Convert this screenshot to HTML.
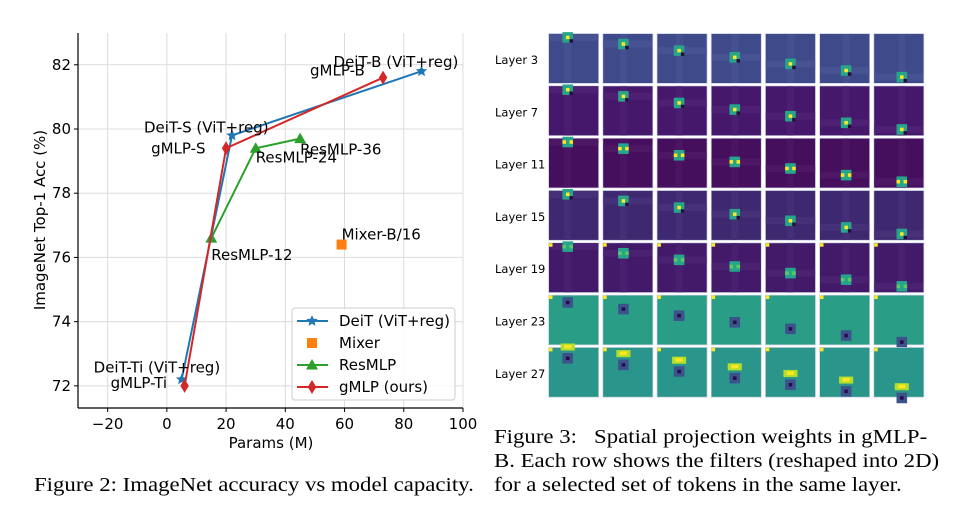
<!DOCTYPE html>
<html><head><meta charset="utf-8"><style>
body{margin:0;background:#fff;width:960px;height:528px;overflow:hidden;position:relative;font-family:"DejaVu Sans","Liberation Sans",sans-serif}
.cap{position:absolute;font-family:"Liberation Serif",serif;font-size:20px;color:#000;line-height:24px;white-space:nowrap;transform:scaleX(1.14);transform-origin:0 0}
</style></head><body>
<svg id="chart" width="480" height="460" style="position:absolute;left:0;top:0" font-family="DejaVu Sans, Liberation Sans, sans-serif"></svg>
<svg id="grid" width="470" height="410" style="position:absolute;top:0;left:490px"></svg>
<div class="cap" style="left:34px;top:473px">Figure 2: ImageNet accuracy vs model capacity.</div>
<div class="cap" style="left:494px;top:425px">Figure 3:&nbsp;&nbsp; Spatial projection weights in gMLP-<br>B. Each row shows the filters (reshaped into 2D)<br>for a selected set of tokens in the same layer.</div>
<script>
const xTicks=[-20,0,20,40,60,80,100];
const yTicks=[72,74,76,78,80,82];
const deitX=[5,22,86], deitY=[72.2,79.8,81.8];
const gmlpX=[6,20,73], gmlpY=[72.0,79.4,81.6];
const resX=[15,30,45], resY=[76.6,79.4,79.7];
const mixX=[59], mixY=[76.4];
const labels=["DeiT-Ti (ViT+reg)","DeiT-S (ViT+reg)","DeiT-B (ViT+reg)","gMLP-Ti","gMLP-S","gMLP-B","ResMLP-12","ResMLP-24","ResMLP-36","Mixer-B/16"];
const NS="http://www.w3.org/2000/svg";
const L=78,R=463,T=33,B=408,FS=15;
const sx=v=>L+(v+30)/130*(R-L);
const sy=v=>B-(v-71.31)/(82.99-71.31)*(B-T);
const svg=document.getElementById('chart');
function mk(t,a,p){const e=document.createElementNS(NS,t);for(const k in a)e.setAttribute(k,a[k]);(p||svg).appendChild(e);return e;}
xTicks.forEach(t=>{
  const g=mk('line',{x1:sx(t),x2:sx(t),y1:T,y2:B,stroke:'#dcdcdc','stroke-width':1});
  
  
  mk('line',{x1:sx(t),x2:sx(t),y1:B,y2:B+4,stroke:'#000'});
  const tx=mk('text',{x:sx(t),y:B+21,'text-anchor':'middle','font-size':FS});
  tx.textContent=t<0?'\u2212'+(-t):t;
  
  
});
yTicks.forEach(t=>{
  const g=mk('line',{x1:L,x2:R,y1:sy(t),y2:sy(t),stroke:'#dcdcdc','stroke-width':1});
  
  
  mk('line',{x1:L-4,x2:L,y1:sy(t),y2:sy(t),stroke:'#000'});
  const tx=mk('text',{x:L-7,y:sy(t)+5,'text-anchor':'end','font-size':FS});
  tx.textContent=t;
  
  
});
mk('line',{x1:L,x2:L,y1:T,y2:B,stroke:'#000','stroke-width':1.2});
mk('line',{x1:L,x2:R,y1:B,y2:B,stroke:'#000','stroke-width':1.2});
const xl=mk('text',{x:271,y:448,'text-anchor':'middle','font-size':FS});xl.textContent='Params (M)';


const yl=mk('text',{x:0,y:0,'text-anchor':'middle','font-size':FS,transform:'translate(45,220) rotate(-90)'});yl.textContent='ImageNet Top-1 Acc (%)';


function star(x,y,r,c,p){let pts=[];for(let i=0;i<10;i++){const a=-Math.PI/2+i*Math.PI/5,rr=i%2?r*0.45:r;pts.push((x+rr*Math.cos(a)).toFixed(1)+','+(y+rr*Math.sin(a)).toFixed(1));}return mk('polygon',{points:pts.join(' '),fill:c},p);}
function tri(x,y,r,c,p){return mk('polygon',{points:`${x},${y-r} ${x-r},${y+r*0.75} ${x+r},${y+r*0.75}`,fill:c},p);}
function dia(x,y,r,c,p){return mk('polygon',{points:`${x},${y-r} ${x+r*0.6},${y} ${x},${y+r} ${x-r*0.6},${y}`,fill:c},p);}
function series(xs,ys,c,marker,name){
  const pl=mk('polyline',{points:xs.map((x,i)=>sx(x)+','+sy(ys[i])).join(' '),fill:'none',stroke:c,'stroke-width':2});
  
  
  xs.forEach((x,i)=>{const m=marker(sx(x),sy(ys[i]),c);
    
    });
}
series(resX,resY,'#2ca02c',(x,y,c)=>tri(x,y,6,c),'resmlp');
series(deitX,deitY,'#1f77b4',(x,y,c)=>star(x,y,6,c),'deit');
series(gmlpX,gmlpY,'#d62728',(x,y,c)=>dia(x,y,7,c),'gmlp');
mixX.forEach((x,i)=>{const m=mk('rect',{x:sx(x)-5,y:sy(mixY[i])-5,width:10,height:10,fill:'#ff7f0e'});
  
  });
const ann=[[0,deitX[0],deitY[0],-88,-7],[1,deitX[1],deitY[1],-88,-3],[2,deitX[2],deitY[2],-88,-4],
[3,gmlpX[0],gmlpY[0],-74,2],[4,gmlpX[1],gmlpY[1],-75,5],[5,gmlpX[2],gmlpY[2],-73,-2],
[6,resX[0],resY[0],0,22],[7,resX[1],resY[1],0,14],[8,resX[2],resY[2],0,16],[9,mixX[0],mixY[0],0,-5]];
ann.forEach(a=>{const t=mk('text',{x:sx(a[1])+a[3],y:sy(a[2])+a[4],'font-size':FS});t.textContent=labels[a[0]];
  
  });
const lg=mk('g',{});


mk('rect',{x:292,y:308,width:163,height:92,rx:3,fill:'#fff','fill-opacity':0.85,stroke:'#ccc'},lg);
const lgN=['DeiT (ViT+reg)','Mixer','ResMLP','gMLP (ours)'],lgC=['#1f77b4','#ff7f0e','#2ca02c','#d62728'];
lgN.forEach((n,i)=>{const y=321+i*22;
  const g=mk('g',{},lg);
  
  
  if(i!=1)mk('line',{x1:297,x2:328,y1:y,y2:y,stroke:lgC[i],'stroke-width':2},g);
  if(i==0)star(312,y,6,lgC[i],g);if(i==1)mk('rect',{x:307,y:y-5,width:10,height:10,fill:lgC[i]},g);
  if(i==2)tri(312,y,6,lgC[i],g);if(i==3)dia(312,y,7,lgC[i],g);
  const t=mk('text',{x:339,y:y+5,'font-size':FS},g);t.textContent=n;});
const layers=[3,7,11,15,19,23,27];
const bgs=['#3f4a8a','#46186b','#450f5e','#3e2870','#43196a','#2a9d87','#2a958a'];
const gs=document.getElementById('grid');
function hex(h,n){const v=parseInt(h.slice(1),16);let r=v>>16,g=(v>>8)&255,b=v&255;return `rgb(${Math.max(0,Math.min(255,r+n))},${Math.max(0,Math.min(255,g+n))},${Math.max(0,Math.min(255,b+n))})`;}
layers.forEach((ly,r)=>{
  const y0=34+r*52.3;
  const t=mk('text',{x:5,y:y0+30,'font-size':11.5},gs);t.textContent='Layer '+ly;
  
  
  for(let c=0;c<7;c++){
    const x0=59+c*54.2,w=49.3,h=49,p=w/14;
    const g=mk('g',{},gs);
    
    
    mk('rect',{x:x0-0.7,y:y0-0.7,width:w+1.4,height:h+1.4,fill:'#c8cce0'},g);
    mk('rect',{x:x0,y:y0,width:w,height:h,fill:bgs[r]},g);
    const cy=y0+h*(0.07+c*0.135),cx=x0+w*(0.38+c*0.03);
    if(r<5){
      mk('rect',{x:x0,y:cy-p,width:w,height:p*2,fill:hex(bgs[r],8)},g);
      mk('rect',{x:cx-p,y:y0,width:p*2,height:h,fill:hex(bgs[r],6)},g);
      mk('rect',{x:cx-p*1.5,y:cy-p*1.5,width:p*3,height:p*3,fill:'#26a58a'},g);
      if(r==2||r==4){mk('rect',{x:cx-p*1.5,y:cy-p/2,width:p,height:p,fill:r==2?'#fde725':'#5ec962'},g);mk('rect',{x:cx+p*0.5,y:cy-p/2,width:p,height:p,fill:r==2?'#fde725':'#5ec962'},g);}
      else {mk('rect',{x:cx-p/2,y:cy-p/2,width:p,height:p,fill:'#fde725'},g);mk('rect',{x:cx+p/2,y:cy+p/2,width:p,height:p,fill:'#2a0a3a'},g);}
    } else {
      if(r==6){mk('rect',{x:cx-p*2,y:cy-p*2.2,width:p*4,height:p*2,fill:'#b5de2b'},g);mk('rect',{x:cx-p,y:cy-p*1.8,width:p*2,height:p,fill:'#fde725'},g);}
      mk('rect',{x:cx-p*1.5,y:cy-p*0.5+(r==6?p:0),width:p*3,height:p*3,fill:'#3b528b'},g);
      mk('rect',{x:cx-p/2,y:cy+p*0.5+(r==6?p:0),width:p,height:p,fill:'#2a0a4a'},g);
    }
    if(r>=4)mk('rect',{x:x0,y:y0,width:p,height:p,fill:'#fde725'},g);
  }
});
</script>
</body></html>
